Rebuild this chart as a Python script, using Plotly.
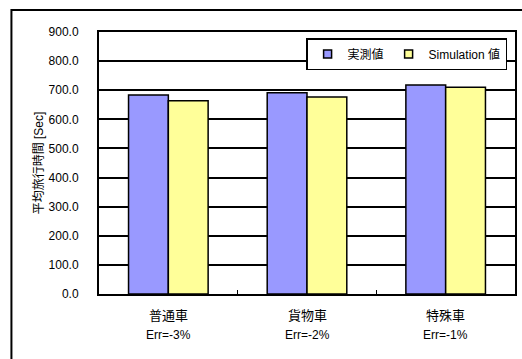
import plotly.graph_objects as go

categories = ["普通車", "貨物車", "特殊車"]
err_labels = ["Err=-3%", "Err=-2%", "Err=-1%"]
measured = [684, 691, 718]
simulated = [664, 677, 710]
y_ticks = [0, 100, 200, 300, 400, 500, 600, 700, 800, 900]
series_names = ["実測値", "Simulation 値"]
series_colors = ["#9999FF", "#FFFF99"]

FONT = "Liberation Sans, Arial, Noto Sans CJK JP, sans-serif"

fig = go.Figure()
for name, vals, col in zip(series_names, [measured, simulated], series_colors):
    fig.add_bar(x=categories, y=vals, name=name, showlegend=False,
                marker=dict(color=col, line=dict(color="black", width=1.5)))
# legend entries with small square swatches
for name, col in zip(series_names, series_colors):
    fig.add_scatter(x=[None], y=[None], mode="markers", name=name,
                    marker=dict(symbol="square", size=8, color=col,
                                line=dict(color="black", width=1.5)))

for c, e in zip(categories, err_labels):
    fig.add_annotation(x=c, y=0, xref="x", yref="y", text=c, showarrow=False,
                       yanchor="middle", yshift=-21, font=dict(size=13, color="black", family=FONT))
    fig.add_annotation(x=c, y=0, xref="x", yref="y", text=e, showarrow=False,
                       yanchor="middle", yshift=-41, font=dict(size=12, color="black", family=FONT))

# outer chart-area border
fig.add_shape(type="rect", xref="paper", yref="paper",
              x0=-0.2105, x1=1.1, y0=-0.5, y1=1.084,
              line=dict(color="black", width=2), fillcolor="rgba(0,0,0,0)", layer="below")

fig.update_layout(
    width=522, height=359,
    margin=dict(l=99, r=5, t=32, b=65),
    paper_bgcolor="white", plot_bgcolor="white",
    font=dict(family=FONT, size=12, color="black"),
    barmode="group", bargap=0.426, bargroupgap=0,
    showlegend=True,
    legend=dict(orientation="h", x=0.981, xanchor="right", y=0.977, yanchor="top",
                bgcolor="white", bordercolor="black", borderwidth=1.5,
                font=dict(size=12, family=FONT), itemwidth=30, tracegroupgap=0),
    xaxis=dict(showticklabels=False, tickson="boundaries", ticks="inside", ticklen=4,
               tickcolor="black", showline=True, linecolor="black", linewidth=2,
               mirror=True, showgrid=False),
    yaxis=dict(range=[0, 900], tickvals=y_ticks, tickformat=".1f", showline=True,
               linecolor="black", linewidth=2, mirror=True, showgrid=True,
               gridcolor="black", gridwidth=1.5, ticks="", ticklabelstandoff=16,
               zeroline=False,
               title=dict(text="平均旅行時間 [Sec]", standoff=2,
                          font=dict(size=12, family=FONT))),
)

fig.write_html("out.html")
